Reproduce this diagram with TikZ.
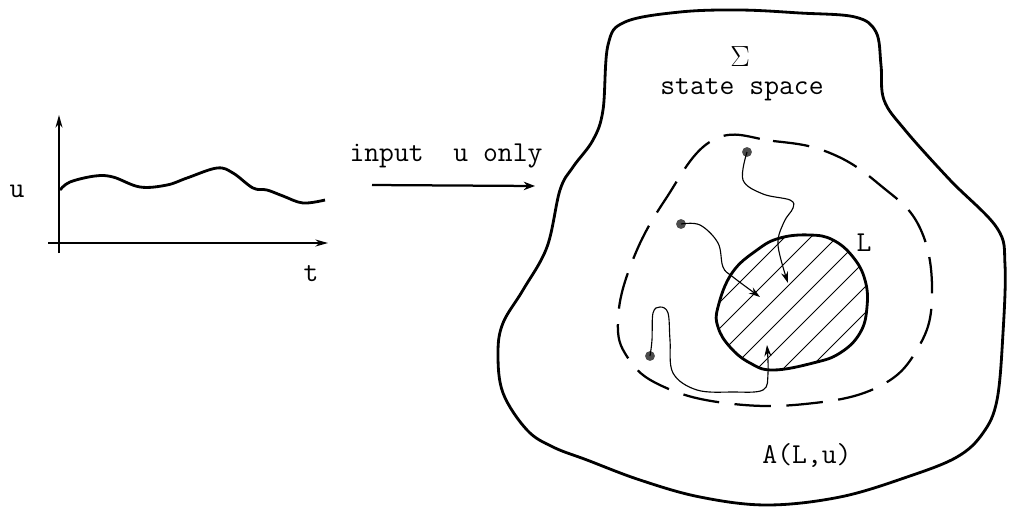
\documentclass[tikz,border=0pt]{standalone}
\usepackage{fontspec}
\usetikzlibrary{arrows.meta}

\begin{document}
\begin{tikzpicture}[
    x=0.025cm, y=-0.025cm,
    lbl/.style={font=\ttfamily\fontsize{20.5}{22}\selectfont, inner sep=0pt},
    axis/.style={line width=1pt, -{Stealth[length=9pt,width=5pt]}},
    boundary/.style={line width=2pt, line join=round},
    reach/.style={line width=1.6pt, dash pattern=on 26pt off 11pt},
    traj/.style={line width=0.8pt, -{Stealth[length=8pt,width=5pt]}},
    hatch/.style={line width=0.7pt},
    startpt/.style={circle, fill=black!70, inner sep=0pt, minimum size=7pt}
]
    \useasboundingbox (0,0) rectangle (1009,508);

    % Input signal u(t)
    \coordinate (ybot) at (59,253);
    \coordinate (ytop) at (59,115);
    \coordinate (xleft) at (48,243);
    \coordinate (xright) at (328,243);
    \draw[axis] (ybot) -- (ytop);
    \draw[axis] (xleft) -- (xright);
    \draw[line width=2pt, line join=round] plot[smooth, tension=0.6] coordinates {
        (60,190) (70,182) (95,176) (113,177) (140,187) (167,185) (187,178)
        (217,168) (233,173) (253,188) (267,190) (283,196) (303,203) (325,200)};
    \node[lbl] (ulabel) at (17,191) {u};
    \node[lbl] (tlabel) at (311,274) {t};

    % Input arrow
    \node[lbl] (input) at (446,156) {input~~u only};
    \coordinate (arrS) at (372,185);
    \coordinate (arrE) at (535,186);
    \draw[line width=1.6pt, -{Stealth[length=8pt,width=6pt]}] (arrS) -- (arrE);

    % State space
    \draw[boundary] plot[smooth cycle, tension=0.6] coordinates {
        (608,45) (625,22) (680,12) (740,10) (800,13) (855,17) (876,32)
        (881,65) (884,100) (905,130) (950,180) (997,228) (1005,265)
        (1003,333) (997,400) (983,433) (957,457) (907,477) (840,497)
        (767,505) (700,497) (640,480) (587,460) (553,447) (527,430)
        (503,393) (498,353) (503,323) (523,290) (547,247) (560,190)
        (573,167) (593,140) (603,110)};
    \node[lbl] (sigma) at (740,57) {$\Sigma$};
    \node[lbl] (space) at (742,90) {state space};

    % Domain of attraction A(L,u)
    \draw[reach] plot[smooth cycle, tension=0.7] coordinates {
        (713,140) (773,141) (830,153) (880,185) (920,228) (932,295)
        (918,348) (878,387) (805,404) (725,403) (662,386) (628,358)
        (618,320) (632,262) (665,200)};
    \node[lbl] (alu) at (807,455) {A(L,u)};

    % Target set L
    \begin{scope}
        \clip plot[smooth cycle, tension=0.7] coordinates {
            (718,307) (732,273) (757,250) (780,238) (810,235) (833,240)
            (853,257) (865,280) (867,307) (860,333) (840,353) (813,363)
            (773,370) (750,363) (730,347) (718,327)};
        \foreach \c in {996,1022,...,1230}
            \draw[hatch] ({\c-420},420) -- ({\c-200},200);
    \end{scope}
    \draw[boundary] plot[smooth cycle, tension=0.7] coordinates {
        (718,307) (732,273) (757,250) (780,238) (810,235) (833,240)
        (853,257) (865,280) (867,307) (860,333) (840,353) (813,363)
        (773,370) (750,363) (730,347) (718,327)};
    \node[lbl] (L) at (864,243) {L};

    % Trajectories
    \node[startpt] (p1) at (747,152) {};
    \node[startpt] (p2) at (681,224) {};
    \node[startpt] (p3) at (650,356) {};
    \draw[traj] plot[smooth, tension=0.6] coordinates {
        (p1) (743,180) (763,194) (790,200) (793,208) (784,222) (778,245) (788,283)};
    \draw[traj] plot[smooth, tension=0.6] coordinates {
        (p2) (700,225) (718,243) (723,267) (733,277) (760,297)};
    \draw[traj] plot[smooth, tension=0.6] coordinates {
        (p3) (652,340) (653,313) (660,307) (668,313) (670,340) (673,373)
        (697,390) (733,392) (763,390) (768,373) (767,345)};
\end{tikzpicture}
\end{document}
